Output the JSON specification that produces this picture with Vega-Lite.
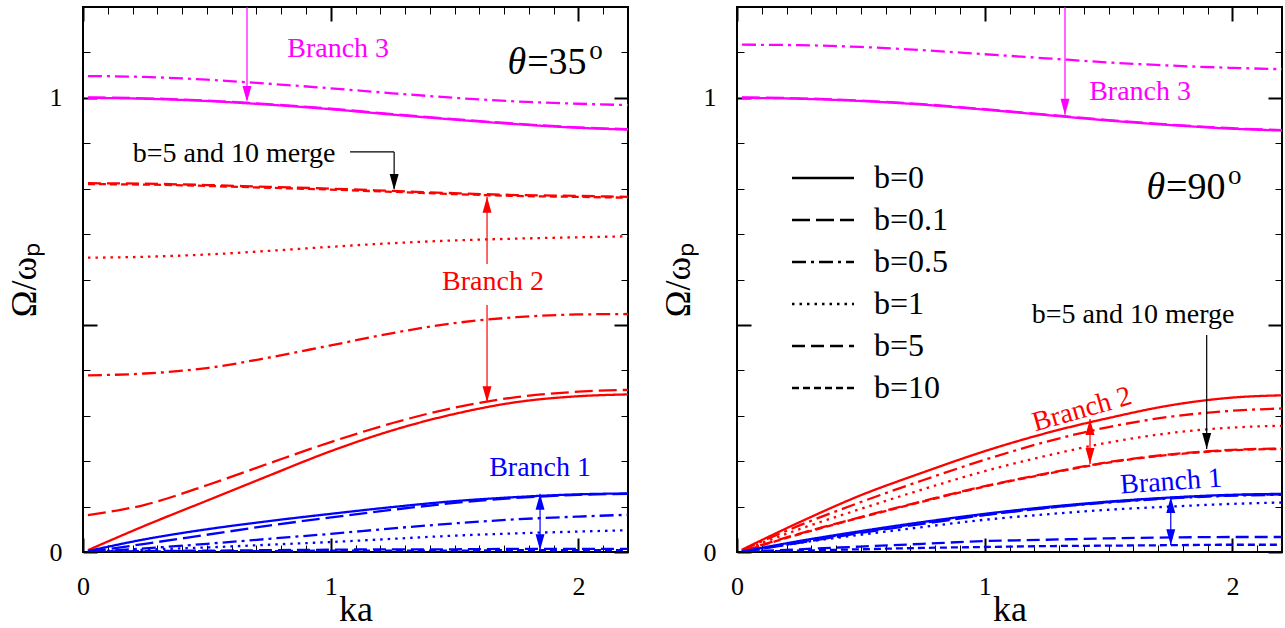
{
"$schema": "https://vega.github.io/schema/vega-lite/v6.json",
"padding": {"left": 5, "top": 5, "right": 0, "bottom": 0},
"background": "white",
"datasets": {
"curves": [
{"p":"L","br":"3","b":"b=0","ka":0.02,"w":1.000},{"p":"L","br":"3","b":"b=0","ka":0.25,"w":0.998},{"p":"L","br":"3","b":"b=0","ka":0.5,"w":0.993},{"p":"L","br":"3","b":"b=0","ka":0.75,"w":0.985},{"p":"L","br":"3","b":"b=0","ka":1.0,"w":0.975},{"p":"L","br":"3","b":"b=0","ka":1.25,"w":0.963},{"p":"L","br":"3","b":"b=0","ka":1.5,"w":0.952},{"p":"L","br":"3","b":"b=0","ka":1.75,"w":0.942},{"p":"L","br":"3","b":"b=0","ka":2.0,"w":0.934},{"p":"L","br":"3","b":"b=0","ka":2.2,"w":0.930},
{"p":"L","br":"3","b":"b=0.1","ka":0.02,"w":1.001},{"p":"L","br":"3","b":"b=0.1","ka":0.25,"w":0.999},{"p":"L","br":"3","b":"b=0.1","ka":0.5,"w":0.994},{"p":"L","br":"3","b":"b=0.1","ka":0.75,"w":0.986},{"p":"L","br":"3","b":"b=0.1","ka":1.0,"w":0.976},{"p":"L","br":"3","b":"b=0.1","ka":1.25,"w":0.964},{"p":"L","br":"3","b":"b=0.1","ka":1.5,"w":0.953},{"p":"L","br":"3","b":"b=0.1","ka":1.75,"w":0.943},{"p":"L","br":"3","b":"b=0.1","ka":2.0,"w":0.935},{"p":"L","br":"3","b":"b=0.1","ka":2.2,"w":0.931},
{"p":"L","br":"3","b":"b=0.5","ka":0.02,"w":1.048},{"p":"L","br":"3","b":"b=0.5","ka":0.25,"w":1.046},{"p":"L","br":"3","b":"b=0.5","ka":0.5,"w":1.040},{"p":"L","br":"3","b":"b=0.5","ka":0.75,"w":1.031},{"p":"L","br":"3","b":"b=0.5","ka":1.0,"w":1.021},{"p":"L","br":"3","b":"b=0.5","ka":1.25,"w":1.010},{"p":"L","br":"3","b":"b=0.5","ka":1.5,"w":1.000},{"p":"L","br":"3","b":"b=0.5","ka":1.75,"w":0.992},{"p":"L","br":"3","b":"b=0.5","ka":2.0,"w":0.987},{"p":"L","br":"3","b":"b=0.5","ka":2.2,"w":0.984},
{"p":"L","br":"2","b":"b=0","ka":0.02,"w":0.004},{"p":"L","br":"2","b":"b=0","ka":0.25,"w":0.058},{"p":"L","br":"2","b":"b=0","ka":0.5,"w":0.113},{"p":"L","br":"2","b":"b=0","ka":0.75,"w":0.168},{"p":"L","br":"2","b":"b=0","ka":1.0,"w":0.222},{"p":"L","br":"2","b":"b=0","ka":1.25,"w":0.268},{"p":"L","br":"2","b":"b=0","ka":1.5,"w":0.304},{"p":"L","br":"2","b":"b=0","ka":1.75,"w":0.330},{"p":"L","br":"2","b":"b=0","ka":2.0,"w":0.343},{"p":"L","br":"2","b":"b=0","ka":2.2,"w":0.347},
{"p":"L","br":"2","b":"b=0.1","ka":0.02,"w":0.081},{"p":"L","br":"2","b":"b=0.1","ka":0.25,"w":0.104},{"p":"L","br":"2","b":"b=0.1","ka":0.5,"w":0.147},{"p":"L","br":"2","b":"b=0.1","ka":0.75,"w":0.195},{"p":"L","br":"2","b":"b=0.1","ka":1.0,"w":0.242},{"p":"L","br":"2","b":"b=0.1","ka":1.25,"w":0.284},{"p":"L","br":"2","b":"b=0.1","ka":1.5,"w":0.318},{"p":"L","br":"2","b":"b=0.1","ka":1.75,"w":0.341},{"p":"L","br":"2","b":"b=0.1","ka":2.0,"w":0.353},{"p":"L","br":"2","b":"b=0.1","ka":2.2,"w":0.357},
{"p":"L","br":"2","b":"b=0.5","ka":0.02,"w":0.389},{"p":"L","br":"2","b":"b=0.5","ka":0.25,"w":0.393},{"p":"L","br":"2","b":"b=0.5","ka":0.5,"w":0.405},{"p":"L","br":"2","b":"b=0.5","ka":0.75,"w":0.428},{"p":"L","br":"2","b":"b=0.5","ka":1.0,"w":0.455},{"p":"L","br":"2","b":"b=0.5","ka":1.25,"w":0.482},{"p":"L","br":"2","b":"b=0.5","ka":1.5,"w":0.504},{"p":"L","br":"2","b":"b=0.5","ka":1.75,"w":0.517},{"p":"L","br":"2","b":"b=0.5","ka":2.0,"w":0.523},{"p":"L","br":"2","b":"b=0.5","ka":2.2,"w":0.524},
{"p":"L","br":"2","b":"b=1","ka":0.02,"w":0.648},{"p":"L","br":"2","b":"b=1","ka":0.25,"w":0.650},{"p":"L","br":"2","b":"b=1","ka":0.5,"w":0.655},{"p":"L","br":"2","b":"b=1","ka":0.75,"w":0.663},{"p":"L","br":"2","b":"b=1","ka":1.0,"w":0.672},{"p":"L","br":"2","b":"b=1","ka":1.25,"w":0.680},{"p":"L","br":"2","b":"b=1","ka":1.5,"w":0.686},{"p":"L","br":"2","b":"b=1","ka":1.75,"w":0.690},{"p":"L","br":"2","b":"b=1","ka":2.0,"w":0.693},{"p":"L","br":"2","b":"b=1","ka":2.2,"w":0.695},
{"p":"L","br":"2","b":"b=5","ka":0.02,"w":0.812},{"p":"L","br":"2","b":"b=5","ka":0.25,"w":0.811},{"p":"L","br":"2","b":"b=5","ka":0.5,"w":0.808},{"p":"L","br":"2","b":"b=5","ka":0.75,"w":0.804},{"p":"L","br":"2","b":"b=5","ka":1.0,"w":0.800},{"p":"L","br":"2","b":"b=5","ka":1.25,"w":0.795},{"p":"L","br":"2","b":"b=5","ka":1.5,"w":0.790},{"p":"L","br":"2","b":"b=5","ka":1.75,"w":0.786},{"p":"L","br":"2","b":"b=5","ka":2.0,"w":0.784},{"p":"L","br":"2","b":"b=5","ka":2.2,"w":0.782},
{"p":"L","br":"2","b":"b=10","ka":0.02,"w":0.810},{"p":"L","br":"2","b":"b=10","ka":0.25,"w":0.809},{"p":"L","br":"2","b":"b=10","ka":0.5,"w":0.806},{"p":"L","br":"2","b":"b=10","ka":0.75,"w":0.802},{"p":"L","br":"2","b":"b=10","ka":1.0,"w":0.798},{"p":"L","br":"2","b":"b=10","ka":1.25,"w":0.793},{"p":"L","br":"2","b":"b=10","ka":1.5,"w":0.788},{"p":"L","br":"2","b":"b=10","ka":1.75,"w":0.784},{"p":"L","br":"2","b":"b=10","ka":2.0,"w":0.782},{"p":"L","br":"2","b":"b=10","ka":2.2,"w":0.780},
{"p":"L","br":"1","b":"b=0","ka":0.02,"w":0.002},{"p":"L","br":"1","b":"b=0","ka":0.25,"w":0.028},{"p":"L","br":"1","b":"b=0","ka":0.5,"w":0.050},{"p":"L","br":"1","b":"b=0","ka":0.75,"w":0.068},{"p":"L","br":"1","b":"b=0","ka":1.0,"w":0.084},{"p":"L","br":"1","b":"b=0","ka":1.25,"w":0.099},{"p":"L","br":"1","b":"b=0","ka":1.5,"w":0.112},{"p":"L","br":"1","b":"b=0","ka":1.75,"w":0.121},{"p":"L","br":"1","b":"b=0","ka":2.0,"w":0.127},{"p":"L","br":"1","b":"b=0","ka":2.2,"w":0.129},
{"p":"L","br":"1","b":"b=0.1","ka":0.02,"w":0.000},{"p":"L","br":"1","b":"b=0.1","ka":0.25,"w":0.018},{"p":"L","br":"1","b":"b=0.1","ka":0.5,"w":0.038},{"p":"L","br":"1","b":"b=0.1","ka":0.75,"w":0.058},{"p":"L","br":"1","b":"b=0.1","ka":1.0,"w":0.076},{"p":"L","br":"1","b":"b=0.1","ka":1.25,"w":0.093},{"p":"L","br":"1","b":"b=0.1","ka":1.5,"w":0.108},{"p":"L","br":"1","b":"b=0.1","ka":1.75,"w":0.119},{"p":"L","br":"1","b":"b=0.1","ka":2.0,"w":0.126},{"p":"L","br":"1","b":"b=0.1","ka":2.2,"w":0.128},
{"p":"L","br":"1","b":"b=0.5","ka":0.02,"w":0.000},{"p":"L","br":"1","b":"b=0.5","ka":0.25,"w":0.008},{"p":"L","br":"1","b":"b=0.5","ka":0.5,"w":0.018},{"p":"L","br":"1","b":"b=0.5","ka":0.75,"w":0.029},{"p":"L","br":"1","b":"b=0.5","ka":1.0,"w":0.040},{"p":"L","br":"1","b":"b=0.5","ka":1.25,"w":0.052},{"p":"L","br":"1","b":"b=0.5","ka":1.5,"w":0.063},{"p":"L","br":"1","b":"b=0.5","ka":1.75,"w":0.072},{"p":"L","br":"1","b":"b=0.5","ka":2.0,"w":0.078},{"p":"L","br":"1","b":"b=0.5","ka":2.2,"w":0.082},
{"p":"L","br":"1","b":"b=1","ka":0.02,"w":0.000},{"p":"L","br":"1","b":"b=1","ka":0.25,"w":0.005},{"p":"L","br":"1","b":"b=1","ka":0.5,"w":0.010},{"p":"L","br":"1","b":"b=1","ka":0.75,"w":0.016},{"p":"L","br":"1","b":"b=1","ka":1.0,"w":0.022},{"p":"L","br":"1","b":"b=1","ka":1.25,"w":0.029},{"p":"L","br":"1","b":"b=1","ka":1.5,"w":0.036},{"p":"L","br":"1","b":"b=1","ka":1.75,"w":0.041},{"p":"L","br":"1","b":"b=1","ka":2.0,"w":0.045},{"p":"L","br":"1","b":"b=1","ka":2.2,"w":0.048},
{"p":"L","br":"1","b":"b=5","ka":0.02,"w":0.000},{"p":"L","br":"1","b":"b=5","ka":0.25,"w":0.002},{"p":"L","br":"1","b":"b=5","ka":0.5,"w":0.003},{"p":"L","br":"1","b":"b=5","ka":0.75,"w":0.004},{"p":"L","br":"1","b":"b=5","ka":1.0,"w":0.005},{"p":"L","br":"1","b":"b=5","ka":1.25,"w":0.006},{"p":"L","br":"1","b":"b=5","ka":1.5,"w":0.006},{"p":"L","br":"1","b":"b=5","ka":1.75,"w":0.007},{"p":"L","br":"1","b":"b=5","ka":2.0,"w":0.007},{"p":"L","br":"1","b":"b=5","ka":2.2,"w":0.007},
{"p":"L","br":"1","b":"b=10","ka":0.02,"w":0.000},{"p":"L","br":"1","b":"b=10","ka":0.25,"w":0.001},{"p":"L","br":"1","b":"b=10","ka":0.5,"w":0.002},{"p":"L","br":"1","b":"b=10","ka":0.75,"w":0.002},{"p":"L","br":"1","b":"b=10","ka":1.0,"w":0.003},{"p":"L","br":"1","b":"b=10","ka":1.25,"w":0.003},{"p":"L","br":"1","b":"b=10","ka":1.5,"w":0.003},{"p":"L","br":"1","b":"b=10","ka":1.75,"w":0.004},{"p":"L","br":"1","b":"b=10","ka":2.0,"w":0.004},{"p":"L","br":"1","b":"b=10","ka":2.2,"w":0.004},
{"p":"R","br":"3","b":"b=0","ka":0.02,"w":1.000},{"p":"R","br":"3","b":"b=0","ka":0.25,"w":0.998},{"p":"R","br":"3","b":"b=0","ka":0.5,"w":0.993},{"p":"R","br":"3","b":"b=0","ka":0.75,"w":0.985},{"p":"R","br":"3","b":"b=0","ka":1.0,"w":0.974},{"p":"R","br":"3","b":"b=0","ka":1.25,"w":0.962},{"p":"R","br":"3","b":"b=0","ka":1.5,"w":0.950},{"p":"R","br":"3","b":"b=0","ka":1.75,"w":0.940},{"p":"R","br":"3","b":"b=0","ka":2.0,"w":0.932},{"p":"R","br":"3","b":"b=0","ka":2.2,"w":0.928},
{"p":"R","br":"3","b":"b=0.1","ka":0.02,"w":1.001},{"p":"R","br":"3","b":"b=0.1","ka":0.25,"w":0.999},{"p":"R","br":"3","b":"b=0.1","ka":0.5,"w":0.994},{"p":"R","br":"3","b":"b=0.1","ka":0.75,"w":0.986},{"p":"R","br":"3","b":"b=0.1","ka":1.0,"w":0.975},{"p":"R","br":"3","b":"b=0.1","ka":1.25,"w":0.963},{"p":"R","br":"3","b":"b=0.1","ka":1.5,"w":0.951},{"p":"R","br":"3","b":"b=0.1","ka":1.75,"w":0.941},{"p":"R","br":"3","b":"b=0.1","ka":2.0,"w":0.933},{"p":"R","br":"3","b":"b=0.1","ka":2.2,"w":0.929},
{"p":"R","br":"3","b":"b=0.5","ka":0.02,"w":1.117},{"p":"R","br":"3","b":"b=0.5","ka":0.25,"w":1.116},{"p":"R","br":"3","b":"b=0.5","ka":0.5,"w":1.112},{"p":"R","br":"3","b":"b=0.5","ka":0.75,"w":1.105},{"p":"R","br":"3","b":"b=0.5","ka":1.0,"w":1.096},{"p":"R","br":"3","b":"b=0.5","ka":1.25,"w":1.087},{"p":"R","br":"3","b":"b=0.5","ka":1.5,"w":1.078},{"p":"R","br":"3","b":"b=0.5","ka":1.75,"w":1.071},{"p":"R","br":"3","b":"b=0.5","ka":2.0,"w":1.066},{"p":"R","br":"3","b":"b=0.5","ka":2.2,"w":1.063},
{"p":"R","br":"2","b":"b=0","ka":0.02,"w":0.005},{"p":"R","br":"2","b":"b=0","ka":0.25,"w":0.065},{"p":"R","br":"2","b":"b=0","ka":0.5,"w":0.125},{"p":"R","br":"2","b":"b=0","ka":0.75,"w":0.175},{"p":"R","br":"2","b":"b=0","ka":1.0,"w":0.222},{"p":"R","br":"2","b":"b=0","ka":1.25,"w":0.262},{"p":"R","br":"2","b":"b=0","ka":1.5,"w":0.295},{"p":"R","br":"2","b":"b=0","ka":1.75,"w":0.323},{"p":"R","br":"2","b":"b=0","ka":2.0,"w":0.340},{"p":"R","br":"2","b":"b=0","ka":2.2,"w":0.345},
{"p":"R","br":"2","b":"b=0.5","ka":0.02,"w":0.004},{"p":"R","br":"2","b":"b=0.5","ka":0.25,"w":0.058},{"p":"R","br":"2","b":"b=0.5","ka":0.5,"w":0.110},{"p":"R","br":"2","b":"b=0.5","ka":0.75,"w":0.158},{"p":"R","br":"2","b":"b=0.5","ka":1.0,"w":0.203},{"p":"R","br":"2","b":"b=0.5","ka":1.25,"w":0.243},{"p":"R","br":"2","b":"b=0.5","ka":1.5,"w":0.275},{"p":"R","br":"2","b":"b=0.5","ka":1.75,"w":0.298},{"p":"R","br":"2","b":"b=0.5","ka":2.0,"w":0.311},{"p":"R","br":"2","b":"b=0.5","ka":2.2,"w":0.316},
{"p":"R","br":"2","b":"b=1","ka":0.02,"w":0.003},{"p":"R","br":"2","b":"b=1","ka":0.25,"w":0.050},{"p":"R","br":"2","b":"b=1","ka":0.5,"w":0.095},{"p":"R","br":"2","b":"b=1","ka":0.75,"w":0.138},{"p":"R","br":"2","b":"b=1","ka":1.0,"w":0.178},{"p":"R","br":"2","b":"b=1","ka":1.25,"w":0.212},{"p":"R","br":"2","b":"b=1","ka":1.5,"w":0.241},{"p":"R","br":"2","b":"b=1","ka":1.75,"w":0.262},{"p":"R","br":"2","b":"b=1","ka":2.0,"w":0.274},{"p":"R","br":"2","b":"b=1","ka":2.2,"w":0.278},
{"p":"R","br":"2","b":"b=5","ka":0.02,"w":0.002},{"p":"R","br":"2","b":"b=5","ka":0.25,"w":0.040},{"p":"R","br":"2","b":"b=5","ka":0.5,"w":0.077},{"p":"R","br":"2","b":"b=5","ka":0.75,"w":0.112},{"p":"R","br":"2","b":"b=5","ka":1.0,"w":0.145},{"p":"R","br":"2","b":"b=5","ka":1.25,"w":0.173},{"p":"R","br":"2","b":"b=5","ka":1.5,"w":0.198},{"p":"R","br":"2","b":"b=5","ka":1.75,"w":0.215},{"p":"R","br":"2","b":"b=5","ka":2.0,"w":0.225},{"p":"R","br":"2","b":"b=5","ka":2.2,"w":0.228},
{"p":"R","br":"2","b":"b=10","ka":0.02,"w":0.001},{"p":"R","br":"2","b":"b=10","ka":0.25,"w":0.039},{"p":"R","br":"2","b":"b=10","ka":0.5,"w":0.076},{"p":"R","br":"2","b":"b=10","ka":0.75,"w":0.111},{"p":"R","br":"2","b":"b=10","ka":1.0,"w":0.144},{"p":"R","br":"2","b":"b=10","ka":1.25,"w":0.172},{"p":"R","br":"2","b":"b=10","ka":1.5,"w":0.197},{"p":"R","br":"2","b":"b=10","ka":1.75,"w":0.214},{"p":"R","br":"2","b":"b=10","ka":2.0,"w":0.224},{"p":"R","br":"2","b":"b=10","ka":2.2,"w":0.227},
{"p":"R","br":"1","b":"b=0","ka":0.02,"w":0.001},{"p":"R","br":"1","b":"b=0","ka":0.25,"w":0.024},{"p":"R","br":"1","b":"b=0","ka":0.5,"w":0.046},{"p":"R","br":"1","b":"b=0","ka":0.75,"w":0.066},{"p":"R","br":"1","b":"b=0","ka":1.0,"w":0.084},{"p":"R","br":"1","b":"b=0","ka":1.25,"w":0.099},{"p":"R","br":"1","b":"b=0","ka":1.5,"w":0.111},{"p":"R","br":"1","b":"b=0","ka":1.75,"w":0.120},{"p":"R","br":"1","b":"b=0","ka":2.0,"w":0.126},{"p":"R","br":"1","b":"b=0","ka":2.2,"w":0.128},
{"p":"R","br":"1","b":"b=0.1","ka":0.02,"w":0.000},{"p":"R","br":"1","b":"b=0.1","ka":0.25,"w":0.020},{"p":"R","br":"1","b":"b=0.1","ka":0.5,"w":0.042},{"p":"R","br":"1","b":"b=0.1","ka":0.75,"w":0.062},{"p":"R","br":"1","b":"b=0.1","ka":1.0,"w":0.081},{"p":"R","br":"1","b":"b=0.1","ka":1.25,"w":0.097},{"p":"R","br":"1","b":"b=0.1","ka":1.5,"w":0.110},{"p":"R","br":"1","b":"b=0.1","ka":1.75,"w":0.119},{"p":"R","br":"1","b":"b=0.1","ka":2.0,"w":0.125},{"p":"R","br":"1","b":"b=0.1","ka":2.2,"w":0.127},
{"p":"R","br":"1","b":"b=0.5","ka":0.02,"w":0.000},{"p":"R","br":"1","b":"b=0.5","ka":0.25,"w":0.022},{"p":"R","br":"1","b":"b=0.5","ka":0.5,"w":0.044},{"p":"R","br":"1","b":"b=0.5","ka":0.75,"w":0.064},{"p":"R","br":"1","b":"b=0.5","ka":1.0,"w":0.082},{"p":"R","br":"1","b":"b=0.5","ka":1.25,"w":0.097},{"p":"R","br":"1","b":"b=0.5","ka":1.5,"w":0.109},{"p":"R","br":"1","b":"b=0.5","ka":1.75,"w":0.118},{"p":"R","br":"1","b":"b=0.5","ka":2.0,"w":0.124},{"p":"R","br":"1","b":"b=0.5","ka":2.2,"w":0.126},
{"p":"R","br":"1","b":"b=1","ka":0.02,"w":0.000},{"p":"R","br":"1","b":"b=1","ka":0.25,"w":0.020},{"p":"R","br":"1","b":"b=1","ka":0.5,"w":0.038},{"p":"R","br":"1","b":"b=1","ka":0.75,"w":0.055},{"p":"R","br":"1","b":"b=1","ka":1.0,"w":0.071},{"p":"R","br":"1","b":"b=1","ka":1.25,"w":0.083},{"p":"R","br":"1","b":"b=1","ka":1.5,"w":0.093},{"p":"R","br":"1","b":"b=1","ka":1.75,"w":0.100},{"p":"R","br":"1","b":"b=1","ka":2.0,"w":0.106},{"p":"R","br":"1","b":"b=1","ka":2.2,"w":0.109},
{"p":"R","br":"1","b":"b=5","ka":0.02,"w":0.000},{"p":"R","br":"1","b":"b=5","ka":0.25,"w":0.006},{"p":"R","br":"1","b":"b=5","ka":0.5,"w":0.012},{"p":"R","br":"1","b":"b=5","ka":0.75,"w":0.018},{"p":"R","br":"1","b":"b=5","ka":1.0,"w":0.024},{"p":"R","br":"1","b":"b=5","ka":1.25,"w":0.027},{"p":"R","br":"1","b":"b=5","ka":1.5,"w":0.030},{"p":"R","br":"1","b":"b=5","ka":1.75,"w":0.032},{"p":"R","br":"1","b":"b=5","ka":2.0,"w":0.033},{"p":"R","br":"1","b":"b=5","ka":2.2,"w":0.033},
{"p":"R","br":"1","b":"b=10","ka":0.02,"w":0.000},{"p":"R","br":"1","b":"b=10","ka":0.25,"w":0.003},{"p":"R","br":"1","b":"b=10","ka":0.5,"w":0.006},{"p":"R","br":"1","b":"b=10","ka":0.75,"w":0.009},{"p":"R","br":"1","b":"b=10","ka":1.0,"w":0.011},{"p":"R","br":"1","b":"b=10","ka":1.25,"w":0.013},{"p":"R","br":"1","b":"b=10","ka":1.5,"w":0.014},{"p":"R","br":"1","b":"b=10","ka":1.75,"w":0.015},{"p":"R","br":"1","b":"b=10","ka":2.0,"w":0.016},{"p":"R","br":"1","b":"b=10","ka":2.2,"w":0.016}
],
"texts": [
{"p":"L","br":"3","g":"flat","t":"Branch 3","ka":1.03,"w":1.108},
{"p":"L","br":"m","g":"flat","t":"b=5 and 10 merge","ka":0.61,"w":0.877},
{"p":"L","br":"2","g":"flat","t":"Branch 2","ka":1.655,"w":0.595},
{"p":"L","br":"1","g":"flat","t":"Branch 1","ka":1.845,"w":0.185},
{"p":"R","br":"3","g":"flat","t":"Branch 3","ka":1.627,"w":1.013},
{"p":"R","br":"m","g":"flat","t":"b=5 and 10 merge","ka":1.599,"w":0.522},
{"p":"R","br":"2","g":"r16","t":"Branch 2","ka":1.393,"w":0.313},
{"p":"R","br":"1","g":"r4","t":"Branch 1","ka":1.752,"w":0.154}
],
"shafts": [
{"p":"L","br":"3","x":0.662,"x2":0.662,"y":1.2,"y2":0.995},
{"p":"L","br":"m","x":1.078,"x2":1.256,"y":0.881,"y2":0.881},
{"p":"L","br":"m","x":1.256,"x2":1.256,"y":0.881,"y2":0.80},
{"p":"L","br":"2","x":1.631,"x2":1.631,"y":0.782,"y2":0.634},
{"p":"L","br":"2","x":1.631,"x2":1.631,"y":0.544,"y2":0.330},
{"p":"L","br":"1","x":1.845,"x2":1.845,"y":0.128,"y2":0.004},
{"p":"R","br":"3","x":1.324,"x2":1.324,"y":1.2,"y2":0.963},
{"p":"R","br":"m","x":1.896,"x2":1.896,"y":0.478,"y2":0.227},
{"p":"R","br":"2","x":1.425,"x2":1.425,"y":0.293,"y2":0.194},
{"p":"R","br":"1","x":1.751,"x2":1.751,"y":0.121,"y2":0.015}
],
"heads": [
{"p":"L","br":"3","dir":"down","ka":0.662,"w":0.991},
{"p":"L","br":"m","dir":"down","ka":1.256,"w":0.797},
{"p":"L","br":"2","dir":"down","ka":1.631,"w":0.330},
{"p":"L","br":"1","dir":"down","ka":1.845,"w":0.004},
{"p":"L","br":"2","dir":"up","ka":1.631,"w":0.782},
{"p":"L","br":"1","dir":"up","ka":1.845,"w":0.128},
{"p":"R","br":"3","dir":"down","ka":1.324,"w":0.963},
{"p":"R","br":"m","dir":"down","ka":1.896,"w":0.227},
{"p":"R","br":"2","dir":"down","ka":1.425,"w":0.194},
{"p":"R","br":"1","dir":"down","ka":1.751,"w":0.015},
{"p":"R","br":"2","dir":"up","ka":1.425,"w":0.293},
{"p":"R","br":"1","dir":"up","ka":1.751,"w":0.121}
],
"thetas": [
{"p":"L","a":"θ","e":"=35","o":"o","ka":1.793,"w":1.053},
{"p":"R","a":"θ","e":"=90","o":"o","ka":1.732,"w":0.778}
]
},
"spacing": 109,
"bounds": "flush",
"hconcat": [
{
"width": 545, "height": 545,
"resolve": {"axis": {"x": "independent", "y": "independent"}},
"layer": [
{"data": {"name": "curves"}, "transform": [{"filter": "datum.p == 'L'"}],
 "mark": {"type": "line", "strokeWidth": 2.3, "interpolate": "monotone", "clip": true},
 "encoding": {
  "x": {"field": "ka", "type": "quantitative", "scale": {"domain": [0, 2.2], "nice": false, "zero": false}, "axis": {"orient": "bottom", "values": [0, 1, 2], "tickSize": -14, "tickWidth": 2, "labelPadding": 35, "labelFlush": false, "labelExpr": "format(datum.value, 'd')", "title": "ka", "titlePadding": -7}},
  "y": {"field": "w", "type": "quantitative", "scale": {"domain": [0, 1.2], "nice": false, "zero": false}, "axis": {"orient": "left", "values": [0, 0.5, 1], "tickSize": -14, "tickWidth": 2, "labelPadding": 35, "labelExpr": "datum.value == 0.5 ? '' : format(datum.value, 'd')", "title": "Ω/ωₚ", "titlePadding": 6}},
  "color": {"field": "br", "type": "nominal", "scale": {"domain": ["1", "2", "3", "m"], "range": ["#0000ff", "#ff0000", "#ff00ff", "#000000"]}, "legend": null},
  "strokeDash": {"field": "b", "type": "nominal", "scale": {"domain": ["b=0", "b=0.1", "b=0.5", "b=1", "b=5", "b=10"], "range": [[1, 0], [18, 6], [14, 5, 3, 5], [2.5, 5], [13, 6], [7, 4]]}, "legend": null}
 }},
{"data": {"name": "texts"}, "transform": [{"filter": "datum.p == 'L' && datum.g == 'flat'"}],
 "mark": {"type": "text", "fontSize": 28, "font": "Liberation Serif"},
 "encoding": {
  "x": {"field": "ka", "type": "quantitative", "scale": {"domain": [0, 2.2], "nice": false, "zero": false}, "axis": {"orient": "bottom", "values": [0.1,0.2,0.3,0.4,0.5,0.6,0.7,0.8,0.9,1.1,1.2,1.3,1.4,1.5,1.6,1.7,1.8,1.9,2.1], "tickSize": -7, "tickWidth": 1, "labels": false, "title": null}},
  "y": {"field": "w", "type": "quantitative", "scale": {"domain": [0, 1.2], "nice": false, "zero": false}, "axis": {"orient": "left", "values": [0.1,0.2,0.3,0.4,0.6,0.7,0.8,0.9,1.1], "tickSize": -7, "tickWidth": 1, "labels": false, "title": null}},
  "text": {"field": "t"},
  "color": {"field": "br", "type": "nominal", "scale": {"domain": ["1", "2", "3", "m"], "range": ["#0000ff", "#ff0000", "#ff00ff", "#000000"]}, "legend": null}
 }},
{"data": {"name": "shafts"}, "transform": [{"filter": "datum.p == 'L'"}],
 "mark": {"type": "rule", "strokeWidth": 1.2},
 "encoding": {
  "x": {"field": "x", "type": "quantitative", "scale": {"domain": [0, 2.2], "nice": false, "zero": false}, "axis": {"orient": "top", "values": [0, 1, 2], "tickSize": -14, "tickWidth": 2, "labels": false, "title": null}},
  "x2": {"field": "x2"},
  "y": {"field": "y", "type": "quantitative", "scale": {"domain": [0, 1.2], "nice": false, "zero": false}, "axis": {"orient": "right", "values": [0, 0.5, 1], "tickSize": -14, "tickWidth": 2, "labels": false, "title": null}},
  "y2": {"field": "y2"},
  "color": {"field": "br", "type": "nominal", "scale": {"domain": ["1", "2", "3", "m"], "range": ["#0000ff", "#ff0000", "#ff00ff", "#000000"]}, "legend": null}
 }},
{"data": {"name": "heads"}, "transform": [{"filter": "datum.p == 'L' && datum.dir == 'down'"}],
 "mark": {"type": "point", "shape": "M-0.28,-1L0.28,-1L0,0Z", "size": 1024, "filled": true, "opacity": 1, "strokeWidth": 0},
 "encoding": {
  "x": {"field": "ka", "type": "quantitative", "scale": {"domain": [0, 2.2], "nice": false, "zero": false}, "axis": {"orient": "top", "values": [0.1,0.2,0.3,0.4,0.5,0.6,0.7,0.8,0.9,1.1,1.2,1.3,1.4,1.5,1.6,1.7,1.8,1.9,2.1], "tickSize": -7, "tickWidth": 1, "labels": false, "title": null}},
  "y": {"field": "w", "type": "quantitative", "scale": {"domain": [0, 1.2], "nice": false, "zero": false}, "axis": {"orient": "right", "values": [0.1,0.2,0.3,0.4,0.6,0.7,0.8,0.9,1.1], "tickSize": -7, "tickWidth": 1, "labels": false, "title": null}},
  "color": {"field": "br", "type": "nominal", "scale": {"domain": ["1", "2", "3", "m"], "range": ["#0000ff", "#ff0000", "#ff00ff", "#000000"]}, "legend": null}
 }},
{"data": {"name": "heads"}, "transform": [{"filter": "datum.p == 'L' && datum.dir == 'up'"}],
 "mark": {"type": "point", "shape": "M-0.28,1L0.28,1L0,0Z", "size": 1024, "filled": true, "opacity": 1, "strokeWidth": 0},
 "encoding": {
  "x": {"field": "ka", "type": "quantitative", "axis": null},
  "y": {"field": "w", "type": "quantitative", "axis": null},
  "color": {"field": "br", "type": "nominal", "scale": {"domain": ["1", "2", "3", "m"], "range": ["#0000ff", "#ff0000", "#ff00ff", "#000000"]}, "legend": null}
 }},
{"data": {"name": "thetas"}, "transform": [{"filter": "datum.p == 'L'"}],
 "mark": {"type": "text", "font": "Liberation Serif", "fontSize": 38, "fontStyle": "italic", "align": "right", "baseline": "alphabetic", "dx": -1, "color": "black"},
 "encoding": {"x": {"field": "ka", "type": "quantitative", "axis": null}, "y": {"field": "w", "type": "quantitative", "axis": null}, "text": {"field": "a"}}},
{"data": {"name": "thetas"}, "transform": [{"filter": "datum.p == 'L'"}],
 "mark": {"type": "text", "font": "Liberation Serif", "fontSize": 38, "align": "left", "baseline": "alphabetic", "color": "black"},
 "encoding": {"x": {"field": "ka", "type": "quantitative", "axis": null}, "y": {"field": "w", "type": "quantitative", "axis": null}, "text": {"field": "e"}}},
{"data": {"name": "thetas"}, "transform": [{"filter": "datum.p == 'L'"}],
 "mark": {"type": "text", "font": "Liberation Serif", "fontSize": 27, "align": "left", "baseline": "alphabetic", "dx": 62, "dy": -15, "color": "black"},
 "encoding": {"x": {"field": "ka", "type": "quantitative", "axis": null}, "y": {"field": "w", "type": "quantitative", "axis": null}, "text": {"field": "o"}}}
]
},
{
"width": 545, "height": 545,
"resolve": {"axis": {"x": "independent", "y": "independent"}},
"layer": [
{"data": {"name": "curves"}, "transform": [{"filter": "datum.p == 'R'"}],
 "mark": {"type": "line", "strokeWidth": 2.3, "interpolate": "monotone", "clip": true},
 "encoding": {
  "x": {"field": "ka", "type": "quantitative", "scale": {"domain": [0, 2.2], "nice": false, "zero": false}, "axis": {"orient": "bottom", "values": [0, 1, 2], "tickSize": -14, "tickWidth": 2, "labelPadding": 35, "labelFlush": false, "labelExpr": "format(datum.value, 'd')", "title": "ka", "titlePadding": -7}},
  "y": {"field": "w", "type": "quantitative", "scale": {"domain": [0, 1.2], "nice": false, "zero": false}, "axis": {"orient": "left", "values": [0, 0.5, 1], "tickSize": -14, "tickWidth": 2, "labelPadding": 35, "labelExpr": "datum.value == 0.5 ? '' : format(datum.value, 'd')", "title": "Ω/ωₚ", "titlePadding": 6}},
  "color": {"field": "br", "type": "nominal", "scale": {"domain": ["1", "2", "3", "m"], "range": ["#0000ff", "#ff0000", "#ff00ff", "#000000"]}, "legend": null},
  "strokeDash": {"field": "b", "type": "nominal", "scale": {"domain": ["b=0", "b=0.1", "b=0.5", "b=1", "b=5", "b=10"], "range": [[1, 0], [18, 6], [14, 5, 3, 5], [2.5, 5], [13, 6], [7, 4]]},
   "legend": {"orient": "none", "legendX": 70, "legendY": 155, "title": null, "symbolType": "M-3,0H3", "symbolSize": 427, "symbolStrokeWidth": 2.5, "symbolStrokeColor": "black", "labelFont": "Liberation Serif", "labelFontSize": 32, "labelColor": "black", "labelOffset": 35, "rowPadding": 10, "padding": 0, "symbolOffset": 0,
    "encode": {"symbols": {"update": {"stroke": {"value": "black"}, "strokeWidth": {"value": 2.5}}}}}}
 }},
{"data": {"name": "texts"}, "transform": [{"filter": "datum.p == 'R' && datum.g == 'flat'"}],
 "mark": {"type": "text", "fontSize": 28, "font": "Liberation Serif"},
 "encoding": {
  "x": {"field": "ka", "type": "quantitative", "scale": {"domain": [0, 2.2], "nice": false, "zero": false}, "axis": {"orient": "bottom", "values": [0.1,0.2,0.3,0.4,0.5,0.6,0.7,0.8,0.9,1.1,1.2,1.3,1.4,1.5,1.6,1.7,1.8,1.9,2.1], "tickSize": -7, "tickWidth": 1, "labels": false, "title": null}},
  "y": {"field": "w", "type": "quantitative", "scale": {"domain": [0, 1.2], "nice": false, "zero": false}, "axis": {"orient": "left", "values": [0.1,0.2,0.3,0.4,0.6,0.7,0.8,0.9,1.1], "tickSize": -7, "tickWidth": 1, "labels": false, "title": null}},
  "text": {"field": "t"},
  "color": {"field": "br", "type": "nominal", "scale": {"domain": ["1", "2", "3", "m"], "range": ["#0000ff", "#ff0000", "#ff00ff", "#000000"]}, "legend": null}
 }},
{"data": {"name": "shafts"}, "transform": [{"filter": "datum.p == 'R'"}],
 "mark": {"type": "rule", "strokeWidth": 1.2},
 "encoding": {
  "x": {"field": "x", "type": "quantitative", "scale": {"domain": [0, 2.2], "nice": false, "zero": false}, "axis": {"orient": "top", "values": [0, 1, 2], "tickSize": -14, "tickWidth": 2, "labels": false, "title": null}},
  "x2": {"field": "x2"},
  "y": {"field": "y", "type": "quantitative", "scale": {"domain": [0, 1.2], "nice": false, "zero": false}, "axis": {"orient": "right", "values": [0, 0.5, 1], "tickSize": -14, "tickWidth": 2, "labels": false, "title": null}},
  "y2": {"field": "y2"},
  "color": {"field": "br", "type": "nominal", "scale": {"domain": ["1", "2", "3", "m"], "range": ["#0000ff", "#ff0000", "#ff00ff", "#000000"]}, "legend": null}
 }},
{"data": {"name": "heads"}, "transform": [{"filter": "datum.p == 'R' && datum.dir == 'down'"}],
 "mark": {"type": "point", "shape": "M-0.28,-1L0.28,-1L0,0Z", "size": 1024, "filled": true, "opacity": 1, "strokeWidth": 0},
 "encoding": {
  "x": {"field": "ka", "type": "quantitative", "scale": {"domain": [0, 2.2], "nice": false, "zero": false}, "axis": {"orient": "top", "values": [0.1,0.2,0.3,0.4,0.5,0.6,0.7,0.8,0.9,1.1,1.2,1.3,1.4,1.5,1.6,1.7,1.8,1.9,2.1], "tickSize": -7, "tickWidth": 1, "labels": false, "title": null}},
  "y": {"field": "w", "type": "quantitative", "scale": {"domain": [0, 1.2], "nice": false, "zero": false}, "axis": {"orient": "right", "values": [0.1,0.2,0.3,0.4,0.6,0.7,0.8,0.9,1.1], "tickSize": -7, "tickWidth": 1, "labels": false, "title": null}},
  "color": {"field": "br", "type": "nominal", "scale": {"domain": ["1", "2", "3", "m"], "range": ["#0000ff", "#ff0000", "#ff00ff", "#000000"]}, "legend": null}
 }},
{"data": {"name": "heads"}, "transform": [{"filter": "datum.p == 'R' && datum.dir == 'up'"}],
 "mark": {"type": "point", "shape": "M-0.28,1L0.28,1L0,0Z", "size": 1024, "filled": true, "opacity": 1, "strokeWidth": 0},
 "encoding": {
  "x": {"field": "ka", "type": "quantitative", "axis": null},
  "y": {"field": "w", "type": "quantitative", "axis": null},
  "color": {"field": "br", "type": "nominal", "scale": {"domain": ["1", "2", "3", "m"], "range": ["#0000ff", "#ff0000", "#ff00ff", "#000000"]}, "legend": null}
 }},
{"data": {"name": "texts"}, "transform": [{"filter": "datum.p == 'R' && datum.g == 'r16'"}],
 "mark": {"type": "text", "fontSize": 28, "font": "Liberation Serif", "angle": 344},
 "encoding": {
  "x": {"field": "ka", "type": "quantitative", "axis": null},
  "y": {"field": "w", "type": "quantitative", "axis": null},
  "text": {"field": "t"},
  "color": {"field": "br", "type": "nominal", "scale": {"domain": ["1", "2", "3", "m"], "range": ["#0000ff", "#ff0000", "#ff00ff", "#000000"]}, "legend": null}
 }},
{"data": {"name": "texts"}, "transform": [{"filter": "datum.p == 'R' && datum.g == 'r4'"}],
 "mark": {"type": "text", "fontSize": 28, "font": "Liberation Serif", "angle": 356},
 "encoding": {
  "x": {"field": "ka", "type": "quantitative", "axis": null},
  "y": {"field": "w", "type": "quantitative", "axis": null},
  "text": {"field": "t"},
  "color": {"field": "br", "type": "nominal", "scale": {"domain": ["1", "2", "3", "m"], "range": ["#0000ff", "#ff0000", "#ff00ff", "#000000"]}, "legend": null}
 }},
{"data": {"name": "thetas"}, "transform": [{"filter": "datum.p == 'R'"}],
 "mark": {"type": "text", "font": "Liberation Serif", "fontSize": 38, "fontStyle": "italic", "align": "right", "baseline": "alphabetic", "dx": -1, "color": "black"},
 "encoding": {"x": {"field": "ka", "type": "quantitative", "axis": null}, "y": {"field": "w", "type": "quantitative", "axis": null}, "text": {"field": "a"}}},
{"data": {"name": "thetas"}, "transform": [{"filter": "datum.p == 'R'"}],
 "mark": {"type": "text", "font": "Liberation Serif", "fontSize": 38, "align": "left", "baseline": "alphabetic", "color": "black"},
 "encoding": {"x": {"field": "ka", "type": "quantitative", "axis": null}, "y": {"field": "w", "type": "quantitative", "axis": null}, "text": {"field": "e"}}},
{"data": {"name": "thetas"}, "transform": [{"filter": "datum.p == 'R'"}],
 "mark": {"type": "text", "font": "Liberation Serif", "fontSize": 27, "align": "left", "baseline": "alphabetic", "dx": 62, "dy": -15, "color": "black"},
 "encoding": {"x": {"field": "ka", "type": "quantitative", "axis": null}, "y": {"field": "w", "type": "quantitative", "axis": null}, "text": {"field": "o"}}}
]
}
],
"resolve": {"scale": {"color": "independent", "strokeDash": "independent"}, "legend": {"color": "independent", "strokeDash": "independent"}},
"config": {
 "view": {"stroke": "black", "strokeWidth": 2},
 "axis": {"grid": false, "domain": false, "labelFont": "Liberation Serif", "titleFont": "Liberation Serif", "labelColor": "black", "titleColor": "black", "tickColor": "black", "labelFontSize": 26, "titleFontSize": 36, "titleFontWeight": "normal"},
 "text": {"font": "Liberation Serif"}
}
}
